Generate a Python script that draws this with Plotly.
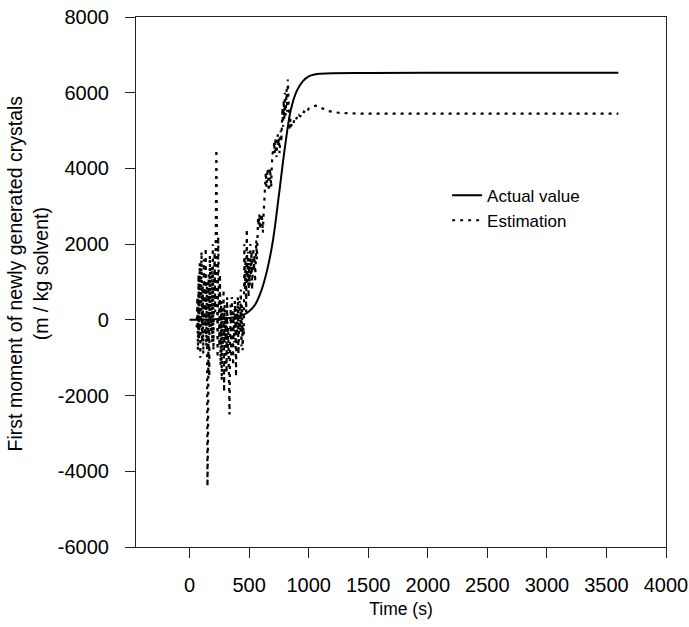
import plotly.graph_objects as go

# ---- data ----
time_actual = [0, 100, 200, 300, 400, 450, 500, 550, 600, 650, 700, 750, 800,
               850, 900, 950, 1000, 1050, 1100, 1200, 1500, 2000, 3000, 3600]
value_actual = [0, 5, 15, 35, 80, 130, 230, 400, 750, 1300, 2100, 3300, 4550,
                5550, 6050, 6300, 6430, 6480, 6500, 6515, 6520, 6525, 6525, 6525]

time_est = [60, 65, 70, 75, 80, 85, 90, 95, 100, 105, 110, 115, 120, 125, 130, 135,
            140, 145, 150, 155, 160, 165, 170, 175, 180, 185, 190, 195, 200, 205,
            210, 215, 220, 225, 230, 235, 240, 245, 250, 255, 260, 265, 270, 275,
            280, 285, 290, 295, 300, 305, 310, 315, 320, 325, 330, 335, 340, 345,
            350, 355, 360, 365, 370, 375, 380, 385, 390, 395, 400, 405, 410, 415,
            420, 425, 430, 435, 440, 445, 450, 455, 460, 465, 470, 475, 480, 485,
            490, 495, 500, 505, 510, 515, 520, 525, 530, 535, 540, 545, 550, 555,
            560, 565, 570, 575, 580, 585, 590, 595, 600, 605, 610, 615, 620, 625,
            630, 635, 640, 645, 650, 655, 660, 665, 670, 675, 680, 685, 690, 695,
            700, 705, 710, 715, 720, 725, 730, 735, 740, 745, 750, 755, 760, 765,
            770, 775, 780, 785, 790, 795, 800, 805, 810, 815, 820, 825, 830, 835,
            840, 845, 850, 860, 870, 880, 890, 900, 910, 920, 930, 940, 950, 960,
            970, 980, 990, 1000, 1020, 1040, 1060, 1080, 1100, 1130, 1160, 1200,
            1250, 1300, 1400, 2000, 3000, 3600]
value_est = [-200, 600, -800, 1200, -500, 1500, -1000, 300, 1800, -600, 900, -900,
             1600, 200, -400, 1900, -700, 1000, -4400, -3000, 1200, -1500, 1700, 400,
             -300, 1400, -600, 2000, -800, 900, 1800, 200, 2800, 4500, 1500, -1000,
             2200, 300, -700, 1200, -1200, 500, -1600, 200, -800, 800, -1900, 400,
             -600, 100, -1400, 600, -900, -200, -2200, -2500, -500, 400, -1000, 600,
             -300, -1200, 200, -600, 500, -100, -1500, 300, -400, 600, -900, 100,
             500, -300, 800, -700, 400, -800, -200, -400, 2000, 800, 1600, 200, 2400,
             1000, 1800, 600, 1500, 900, 2000, 1200, 1800, 800, 1500, 1900, 1300,
             1700, 1000, 1400, 2100, 1600, 2300, 2700, 2500, 2800, 2400, 2700, 2500,
             2800, 2600, 2300, 2700, 3000, 3300, 3600, 3900, 3500, 3700, 4000, 3800,
             3400, 3600, 4000, 3800, 3500, 4100, 4300, 4500, 4400, 4700, 4400, 4800,
             4600, 4300, 4700, 4900, 4600, 4800, 4400, 4700, 5000, 4700, 5200, 5600,
             5100, 5800, 5300, 6000, 5400, 5700, 6100, 5500, 6350, 5800, 5200, 5000,
             5300, 5100, 5200, 5150, 5300, 5250, 5350, 5300, 5400, 5380, 5450, 5420,
             5500, 5480, 5550, 5520, 5580, 5600, 5640, 5660, 5640, 5600, 5560, 5520,
             5490, 5470, 5460, 5450, 5450, 5450, 5450]

x_ticks = [0, 500, 1000, 1500, 2000, 2500, 3000, 3500, 4000]
x_tick_labels = ["0", "500", "1000", "1500", "2000", "2500", "3000", "3500", "4000"]
y_ticks = [-6000, -4000, -2000, 0, 2000, 4000, 6000, 8000]
y_tick_labels = ["-6000", "-4000", "-2000", "0", "2000", "4000", "6000", "8000"]

FONT = "Liberation Sans, Arial, sans-serif"

fig = go.Figure()
fig.add_trace(go.Scatter(x=time_actual, y=value_actual, mode="lines",
                         name="Actual value",
                         line=dict(color="black", width=2, shape="spline")))
fig.add_trace(go.Scatter(x=time_est, y=value_est, mode="lines",
                         name="Estimation",
                         line=dict(color="black", width=2.2, dash="3px,5px")))

axis_common = dict(showgrid=False, zeroline=False, showline=True, linecolor="#222",
                   linewidth=1.2, mirror=True, ticks="outside", ticklen=10,
                   tickcolor="#222", automargin=False,
                   tickfont=dict(family=FONT, size=20, color="black"))

fig.update_layout(
    width=689, height=627,
    margin=dict(l=136, r=23, t=17, b=80),
    paper_bgcolor="white", plot_bgcolor="white",
    font=dict(family=FONT, size=17, color="black"),
    xaxis=dict(range=[-450, 4000], tickvals=x_ticks, ticktext=x_tick_labels,
               ticklabelstandoff=10,
               title=dict(text="Time (s)", font=dict(family=FONT, size=17.5), standoff=7),
               **axis_common),
    yaxis=dict(range=[-6000, 8000], tickvals=y_ticks, ticktext=y_tick_labels,
               ticklabelstandoff=12, **axis_common),
    legend=dict(x=0.587, y=0.697, xanchor="left", yanchor="top",
                bgcolor="rgba(0,0,0,0)", font=dict(family=FONT, size=17),
                tracegroupgap=0),
    showlegend=True,
    annotations=[dict(text="First moment of newly generated crystals<br>(m / kg solvent)",
                      xref="paper", yref="paper", x=-0.203, y=0.517,
                      xanchor="center", yanchor="middle", textangle=-90,
                      showarrow=False, font=dict(family=FONT, size=19.5))],
)

fig.write_html("out.html")
